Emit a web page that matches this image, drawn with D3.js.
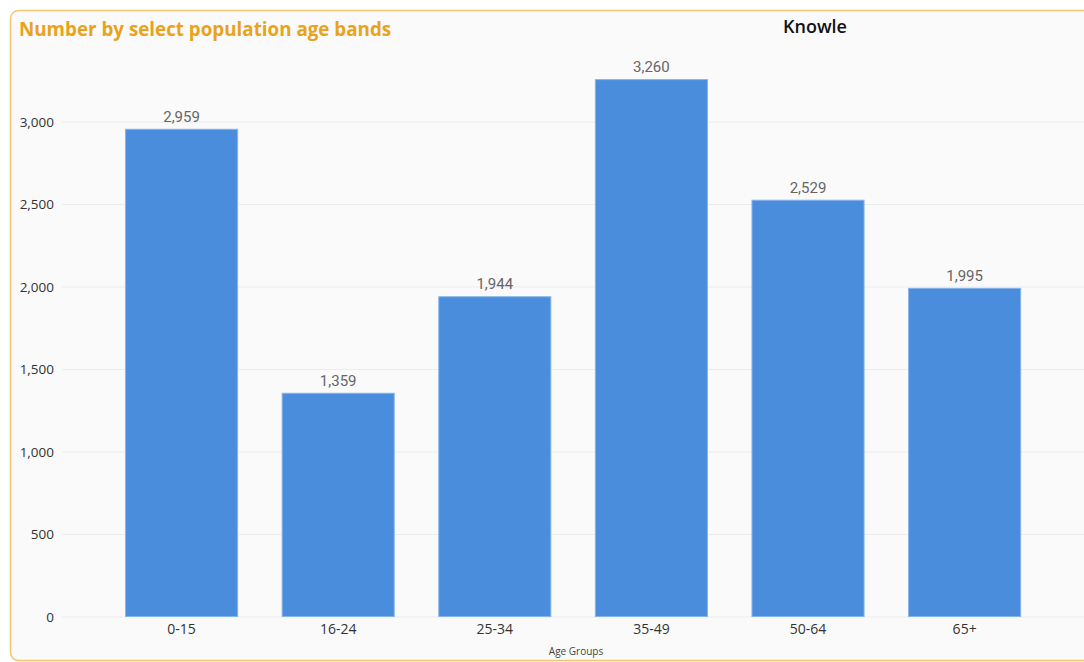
<!DOCTYPE html>
<html>
<head>
<meta charset="utf-8">
<script src="https://cdn.jsdelivr.net/npm/d3@7"></script>
<style>
  body { margin: 0; background: #ffffff; font-family: "Open Sans", "Noto Sans", sans-serif; }
  #chart { width: 1084px; height: 662px; overflow: hidden; }
</style>
</head>
<body>
<div id="chart"></div>
<script>
// chart values
const ageGroups = ["0-15", "16-24", "25-34", "35-49", "50-64", "65+"];
const population = [2959, 1359, 1944, 3260, 2529, 1995];
const yTicks = [0, 500, 1000, 1500, 2000, 2500, 3000];

const W = 1084, H = 662;

const svg = d3.select("#chart").append("svg")
    .attr("width", W)
    .attr("height", H);

// card background
svg.append("rect")
    .attr("x", 10.5).attr("y", 10.5)
    .attr("width", W + 20).attr("height", H - 12)
    .attr("rx", 8)
    .attr("fill", "#fafafa")
    .attr("stroke", "#f0c96e")
    .attr("stroke-width", 1.5);

// Scales
let x = d3.scaleBand()
    .domain(ageGroups)
    .range([62.4, 1083.8])
    .paddingInner(0.278)
    .paddingOuter(0.4);

let y = d3.scaleLinear()
    .domain([0, 3000])
    .range([617, 122]);

// gridlines
svg.append("g")
    .selectAll("line")
    .data(yTicks)
    .enter().append("line")
    .attr("x1", 62).attr("x2", W)
    .attr("y1", d => y(d)).attr("y2", d => y(d))
    .attr("stroke", "#ececec")
    .attr("stroke-width", 1);

// y axis labels
let yAxis = d3.axisLeft(y).tickValues(yTicks).tickSize(0).tickPadding(0).tickFormat(d3.format(","));
svg.append("g")
    .attr("transform", "translate(54,0)")
    .call(yAxis)
    .call(g => g.select(".domain").remove())
    .selectAll("text")
    .attr("font-family", "'Open Sans', sans-serif")
    .attr("font-size", 13.5)
    .attr("fill", "#333");

// bars
svg.append("g")
    .selectAll("rect")
    .data(population)
    .enter().append("rect")
    .attr("x", (d, i) => x(ageGroups[i]) + 0.5)
    .attr("y", d => y(d) + 0.5)
    .attr("width", x.bandwidth() - 1)
    .attr("height", d => y(0) - y(d) - 1)
    .attr("fill", "#4a8ddc")
    .attr("stroke", "#86b3ea")
    .attr("stroke-width", 1);

// data labels
svg.append("g")
    .selectAll("text")
    .data(population)
    .enter().append("text")
    .attr("x", (d, i) => x(ageGroups[i]) + x.bandwidth() / 2)
    .attr("y", d => y(d) - 7)
    .attr("text-anchor", "middle")
    .attr("font-family", "Roboto, sans-serif")
    .attr("font-size", 15)
    .attr("fill", "#666")
    .text(d => d3.format(",")(d));

// x axis labels
let xAxis = d3.axisBottom(x).tickSize(0).tickPadding(0);
svg.append("g")
    .attr("transform", "translate(0,622)")
    .call(xAxis)
    .call(g => g.select(".domain").remove())
    .selectAll("text")
    .attr("dy", "0.85em")
    .attr("font-family", "'Open Sans', sans-serif")
    .attr("font-size", 14)
    .attr("fill", "#333");

// x axis title
svg.append("text")
    .attr("x", 576).attr("y", 655)
    .attr("text-anchor", "middle")
    .attr("font-family", "'Open Sans', sans-serif")
    .attr("font-size", 10)
    .attr("fill", "#444")
    .text("Age Groups");

// titles
svg.append("text")
    .attr("x", 19).attr("y", 36)
    .attr("font-family", "'Open Sans', sans-serif")
    .attr("font-weight", "bold")
    .attr("font-size", 18.8)
    .attr("fill", "#e8a31b")
    .text("Number by select population age bands");

svg.append("text")
    .attr("x", 815).attr("y", 33)
    .attr("text-anchor", "middle")
    .attr("font-family", "'Open Sans', sans-serif")
    .attr("font-weight", 600)
    .attr("font-size", 18)
    .attr("fill", "#111")
    .text("Knowle");
</script>
</body>
</html>
